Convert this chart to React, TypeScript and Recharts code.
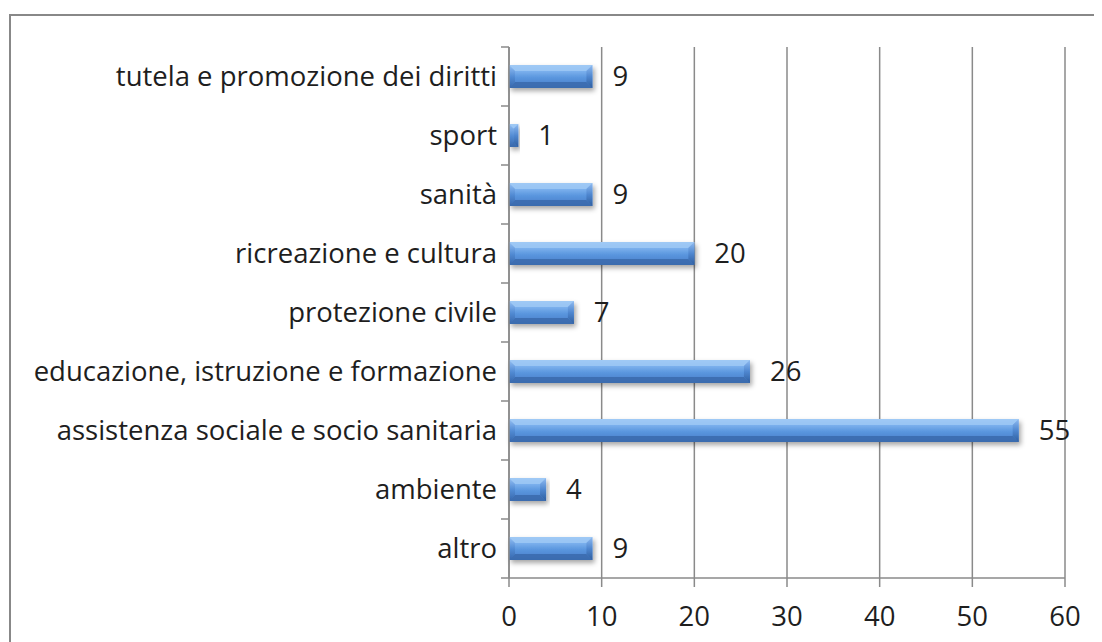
import React from 'react';
import { BarChart, Bar, XAxis, YAxis, CartesianGrid, LabelList } from 'recharts';

// categorie dall'alto verso il basso
const categories = [
  'tutela e promozione dei diritti',
  'sport',
  'sanità',
  'ricreazione e cultura',
  'protezione civile',
  'educazione, istruzione e formazione',
  'assistenza sociale e socio sanitaria',
  'ambiente',
  'altro',
];
const counts = [9, 1, 9, 20, 7, 26, 55, 4, 9];
const xTicks = [0, 10, 20, 30, 40, 50, 60];

const data = categories.map((name, i) => ({ name, value: counts[i] }));

const W = 1094;
const H = 634;
const MARGIN = { top: 39, right: 37, bottom: 14, left: 0 };
const X_AXIS_H = 50;
const Y_AXIS_W = 501;
const BAND = (H - MARGIN.top - MARGIN.bottom - X_AXIS_H) / categories.length;

const FONT = '"Open Sans", sans-serif';
const FONT_SIZE = 27.5;
const AXIS_COLOR = '#8a8a8a';

const CategoryTick = (props: any) => {
  const { x, y, payload, index } = props;
  const half = BAND / 2;
  return (
    <g>
      <text x={x - 12} y={y} dy="0.36em" textAnchor="end" fontSize={FONT_SIZE} fill="#1e1e1e" fontFamily={FONT}>
        {payload.value}
      </text>
      <line x1={x - 8} x2={x} y1={y - half} y2={y - half} stroke={AXIS_COLOR} strokeWidth={1.5} />
      {index === categories.length - 1 && (
        <line x1={x - 8} x2={x} y1={y + half} y2={y + half} stroke={AXIS_COLOR} strokeWidth={1.5} />
      )}
    </g>
  );
};

// barra con effetto smussato stile Excel
const BevelBar = (props: any) => {
  const { x, y, width, height } = props;
  if (!width || width <= 0) return null;
  const b = Math.min(6, width / 2);
  const r = x + width;
  const btm = y + height;
  return (
    <g filter="url(#barShadow)">
      <rect x={x} y={y} width={width} height={height} fill="url(#barFill)" />
      {/* lato superiore chiaro */}
      <polygon points={`${x},${y} ${r},${y} ${r - b},${y + b} ${x + b},${y + b}`} fill="#9ec8f4" opacity={0.85} />
      {/* lato inferiore scuro */}
      <polygon points={`${x},${btm} ${r},${btm} ${r - b},${btm - b} ${x + b},${btm - b}`} fill="#3b6cae" opacity={0.9} />
      {/* estremità destra */}
      <polygon points={`${r},${y} ${r},${btm} ${r - b},${btm - b} ${r - b},${y + b}`} fill="url(#barEnd)" />
      {/* estremità sinistra */}
      <polygon points={`${x},${y} ${x},${btm} ${x + b},${btm - b} ${x + b},${y + b}`} fill="url(#barEnd)" opacity={0.7} />
    </g>
  );
};

const App: React.FC = () => {
  return (
    <div style={{ position: 'relative', width: W, height: H, overflow: 'hidden', background: '#fff' }}>
      <div
        style={{
          position: 'absolute',
          left: 1,
          top: 6,
          width: W + 20,
          height: H + 20,
          border: '2px solid #888',
          boxSizing: 'border-box',
        }}
      />
      <BarChart
        width={W}
        height={H}
        data={data}
        layout="vertical"
        margin={MARGIN}
        style={{ position: 'absolute', left: 0, top: 0 }}
      >
        <defs>
          <linearGradient id="barFill" x1="0" y1="0" x2="0" y2="1">
            <stop offset="0%" stopColor="#a9d0f7" />
            <stop offset="25%" stopColor="#7db2ee" />
            <stop offset="55%" stopColor="#5a96de" />
            <stop offset="85%" stopColor="#4c84cf" />
            <stop offset="100%" stopColor="#3d6db0" />
          </linearGradient>
          <linearGradient id="barEnd" x1="0" y1="0" x2="0" y2="1">
            <stop offset="0%" stopColor="#8fbaf0" />
            <stop offset="50%" stopColor="#4f87d0" />
            <stop offset="100%" stopColor="#2f5e9f" />
          </linearGradient>
          <filter id="barShadow" x="-5%" y="-30%" width="115%" height="190%">
            <feDropShadow dx="2" dy="3" stdDeviation="2.5" floodColor="#000" floodOpacity="0.35" />
          </filter>
        </defs>
        <CartesianGrid horizontal={false} stroke={AXIS_COLOR} strokeWidth={1.5} />
        <XAxis
          type="number"
          domain={[0, 60]}
          ticks={xTicks}
          height={X_AXIS_H}
          tickSize={9}
          tickMargin={19}
          stroke={AXIS_COLOR}
          strokeWidth={1.5}
          tick={{ fontSize: FONT_SIZE, fill: '#1e1e1e', fontFamily: FONT }}
        />
        <YAxis
          type="category"
          dataKey="name"
          width={Y_AXIS_W}
          tickSize={0}
          tickMargin={0}
          tickLine={false}
          interval={0}
          stroke={AXIS_COLOR}
          strokeWidth={1.5}
          tick={<CategoryTick />}
        />
        <Bar dataKey="value" barSize={23} shape={<BevelBar />} isAnimationActive={false}>
          <LabelList
            dataKey="value"
            position="right"
            offset={20}
            style={{ fontSize: FONT_SIZE, fill: '#1e1e1e', fontFamily: FONT }}
          />
        </Bar>
      </BarChart>
    </div>
  );
};

export default App;
